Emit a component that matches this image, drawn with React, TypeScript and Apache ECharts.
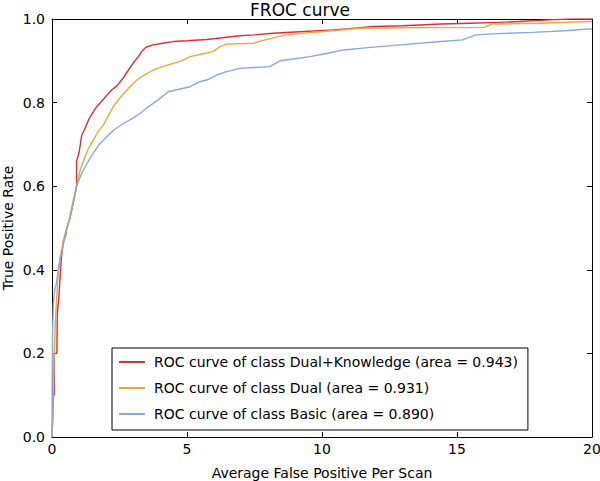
import React, { useEffect, useRef } from "react";
import * as echarts from "echarts";

const xTicks = [0, 5, 10, 15, 20];
const yTicks = [0.0, 0.2, 0.4, 0.6, 0.8, 1.0];

const seriesNames = [
  "ROC curve of class Dual+Knowledge (area = 0.943)",
  "ROC curve of class Dual (area = 0.931)",
  "ROC curve of class Basic (area = 0.890)",
];

const redPoints: [number, number][] = [
  [0, 0], [0.03, 0.05], [0.05, 0.1], [0.08, 0.1], [0.08, 0.2], [0.18, 0.2], [0.2, 0.3],
  [0.25, 0.33], [0.3, 0.38], [0.35, 0.43], [0.42, 0.467], [0.5, 0.48], [0.55, 0.5],
  [0.65, 0.52], [0.73, 0.543], [0.85, 0.58], [0.91, 0.6], [0.91, 0.66], [1.0, 0.68],
  [1.05, 0.7], [1.1, 0.722], [1.2, 0.735], [1.35, 0.758], [1.5, 0.775], [1.65, 0.79],
  [1.78, 0.799], [2.0, 0.815], [2.21, 0.83], [2.4, 0.84], [2.64, 0.859], [2.8, 0.875],
  [3.0, 0.894], [3.2, 0.91], [3.37, 0.926], [3.5, 0.933], [3.74, 0.938], [4.1, 0.942],
  [4.49, 0.946], [5.0, 0.948], [5.73, 0.951], [6.3, 0.955], [6.96, 0.96], [7.5, 0.962],
  [8.19, 0.966], [9.0, 0.969], [10.4, 0.974], [11.0, 0.977], [11.9, 0.982], [13.0, 0.984],
  [14.4, 0.988], [15.5, 0.99], [16.5, 0.992], [17.3, 0.994], [18.4, 0.998], [19.2, 1.0],
  [20, 1.0],
];

const orangePoints: [number, number][] = [
  [0, 0], [0.03, 0.06], [0.05, 0.12], [0.08, 0.2], [0.12, 0.27], [0.17, 0.33], [0.22, 0.38],
  [0.3, 0.43], [0.42, 0.47], [0.5, 0.49], [0.6, 0.51], [0.7, 0.54], [0.8, 0.57], [0.91, 0.6],
  [1.05, 0.64], [1.22, 0.67], [1.35, 0.69], [1.53, 0.711], [1.7, 0.73], [1.9, 0.746],
  [2.1, 0.77], [2.27, 0.79], [2.5, 0.81], [2.77, 0.83], [3.14, 0.854], [3.4, 0.865],
  [3.75, 0.878], [4.1, 0.886], [4.49, 0.894], [4.8, 0.9], [5.11, 0.91], [5.6, 0.917],
  [5.97, 0.922], [6.22, 0.934], [6.47, 0.94], [7.46, 0.942], [8.0, 0.952], [8.69, 0.962],
  [9.5, 0.967], [10.4, 0.972], [11.4, 0.978], [13.0, 0.979], [16.0, 0.98], [16.3, 0.988],
  [18, 0.99], [20, 0.994],
];

const bluePoints: [number, number][] = [
  [0, 0], [0.01, 0.15], [0.02, 0.25], [0.05, 0.32], [0.1, 0.35], [0.17, 0.37], [0.25, 0.41],
  [0.35, 0.44], [0.45, 0.47], [0.55, 0.5], [0.65, 0.52], [0.75, 0.55], [0.85, 0.58],
  [0.91, 0.6], [1.1, 0.631], [1.3, 0.655], [1.53, 0.679], [1.75, 0.7], [2.02, 0.718],
  [2.3, 0.735], [2.64, 0.75], [3.0, 0.763], [3.26, 0.774], [3.5, 0.787], [3.75, 0.798],
  [4.0, 0.81], [4.31, 0.826], [4.7, 0.832], [5.11, 0.838], [5.48, 0.85], [5.73, 0.854],
  [6.1, 0.866], [6.47, 0.874], [6.96, 0.882], [7.5, 0.884], [8.07, 0.886], [8.44, 0.9],
  [9.0, 0.905], [9.56, 0.91], [10.2, 0.918], [10.8, 0.926], [11.8, 0.932], [12.9, 0.938],
  [14.4, 0.946], [15.2, 0.95], [15.7, 0.962], [16.5, 0.965], [17.8, 0.968], [19.0, 0.972],
  [19.6, 0.975], [20, 0.976],
];

const colors = ["#dc2f34", "#f0a83a", "#87a9e6"];
const FONT = "DejaVu Sans";

export default function App() {
  const ref = useRef<HTMLDivElement>(null);
  useEffect(() => {
    document.body.style.margin = "0";
    if (!ref.current) return;
    const chart = echarts.init(ref.current, undefined, { renderer: "svg" });
    const axisLine = { show: true, onZero: false, lineStyle: { color: "#000", width: 1 } };
    const tick = { show: true, inside: true, length: 5, lineStyle: { color: "#000" } };
    chart.setOption({
      animation: false,
      backgroundColor: "#fff",
      title: {
        text: "FROC curve",
        left: "center",
        top: -4,
        textStyle: { fontFamily: FONT, fontSize: 17, fontWeight: "normal", color: "#000" },
      },
      grid: {
        left: 52,
        right: 8,
        top: 19,
        bottom: 44,
        containLabel: false,
        outerBoundsMode: "none",
      },
      legend: {
        orient: "vertical",
        left: 112,
        top: 348,
        data: seriesNames,
        backgroundColor: "#fff",
        borderColor: "#000",
        borderWidth: 1,
        borderRadius: 0,
        padding: [7, 10, 9, 7],
        itemGap: 12,
        itemWidth: 26,
        itemHeight: 2,
        icon: "rect",
        textStyle: { fontFamily: FONT, fontSize: 14, color: "#000", padding: [0, 0, 0, 4] },
      },
      xAxis: [
        {
          type: "value",
          min: 0,
          max: 20,
          interval: 5,
          name: "Average False Positive Per Scan",
          nameLocation: "middle",
          nameGap: 29,
          nameMoveOverlap: false,
          nameTextStyle: { fontFamily: FONT, fontSize: 14, color: "#000" },
          axisLine,
          axisTick: tick,
          splitLine: { show: false },
          axisLabel: { fontFamily: FONT, fontSize: 14, color: "#000", margin: 5 },
        },
        {
          type: "value",
          position: "top",
          min: 0,
          max: 20,
          interval: 5,
          axisLine,
          axisTick: tick,
          splitLine: { show: false },
          axisLabel: { show: false },
        },
      ],
      yAxis: [
        {
          type: "value",
          min: 0,
          max: 1,
          interval: 0.2,
          name: "True Positive Rate",
          nameLocation: "middle",
          nameGap: 37,
          nameMoveOverlap: false,
          nameTextStyle: { fontFamily: FONT, fontSize: 14, color: "#000" },
          axisLine,
          axisTick: tick,
          splitLine: { show: false },
          axisLabel: {
            fontFamily: FONT,
            fontSize: 14,
            color: "#000",
            margin: 7,
            formatter: (v: number) => v.toFixed(1),
          },
        },
        {
          type: "value",
          position: "right",
          min: 0,
          max: 1,
          interval: 0.2,
          axisLine,
          axisTick: tick,
          splitLine: { show: false },
          axisLabel: { show: false },
        },
      ],
      series: [
        { name: seriesNames[0], data: redPoints, color: colors[0] },
        { name: seriesNames[1], data: orangePoints, color: colors[1] },
        { name: seriesNames[2], data: bluePoints, color: colors[2] },
      ].map((s) => ({
        type: "line",
        name: s.name,
        data: s.data,
        showSymbol: false,
        symbol: "none",
        itemStyle: { color: s.color },
        lineStyle: { color: s.color, width: 1.4 },
        xAxisIndex: 0,
        yAxisIndex: 0,
      })),
    });
    return () => chart.dispose();
  }, []);
  return <div ref={ref} style={{ width: 600, height: 481 }} />;
}
